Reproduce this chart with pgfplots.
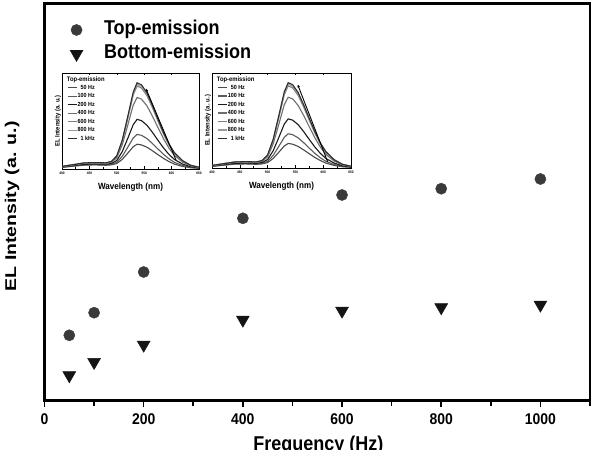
\documentclass[border=0pt]{standalone}
\usepackage{pgfplots}
\pgfplotsset{compat=1.18}
\usepackage{pgfplotstable}
\usepackage{fontspec}
\setmainfont{Liberation Sans}[FakeStretch=0.9]
\newfontfamily\labfont{Liberation Sans}
\usetikzlibrary{arrows.meta}

\definecolor{topc}{HTML}{3A3A3A}
\definecolor{botc}{HTML}{141414}
\definecolor{hzA}{HTML}{4A4A4A}
\definecolor{hzB}{HTML}{5A5A5A}
\definecolor{hzC}{HTML}{1A1A1A}
\definecolor{hzD}{HTML}{6E6E6E}
\definecolor{hzE}{HTML}{808080}
\definecolor{hzF}{HTML}{9A9A9A}
\definecolor{hzG}{HTML}{2E2E2E}

% EL intensity vs. drive frequency
\pgfplotstableread{
f    top    bottom
50   65.2   25.1
100  87.8   38.4
200  128.5  55.7
400  182.2  80.7
600  205.5  89.7
800  211.8  93.1
1000 221.5  95.7
}\freqdata

% EL spectra (normalised), c1 = highest ... c7 = lowest
\pgfplotstableread{
wl  c1    c2    c3    c4    c5    c6    c7
400 0.027 0.027 0.026 0.025 0.021 0.019 0.017
420 0.045 0.045 0.044 0.041 0.035 0.031 0.029
440 0.063 0.062 0.062 0.058 0.049 0.044 0.040
460 0.067 0.066 0.066 0.061 0.052 0.046 0.043
480 0.064 0.064 0.063 0.059 0.050 0.043 0.039
490 0.078 0.077 0.076 0.070 0.057 0.049 0.043
500 0.136 0.134 0.131 0.117 0.089 0.069 0.057
510 0.301 0.295 0.290 0.253 0.181 0.132 0.100
520 0.547 0.536 0.526 0.456 0.319 0.226 0.165
530 0.802 0.786 0.771 0.666 0.462 0.323 0.232
537 0.898 0.881 0.864 0.745 0.517 0.360 0.258
545 0.877 0.860 0.844 0.728 0.504 0.351 0.251
555 0.794 0.778 0.763 0.658 0.456 0.317 0.227
565 0.664 0.651 0.639 0.551 0.382 0.266 0.190
575 0.521 0.511 0.501 0.433 0.300 0.209 0.150
585 0.383 0.375 0.368 0.318 0.221 0.154 0.111
595 0.263 0.258 0.253 0.219 0.153 0.107 0.078
605 0.171 0.168 0.164 0.142 0.100 0.070 0.051
620 0.086 0.085 0.083 0.072 0.051 0.036 0.027
635 0.038 0.038 0.037 0.032 0.023 0.017 0.013
650 0.018 0.018 0.018 0.016 0.012 0.009 0.007
}\spectra

\pgfplotsset{
  inset/.style={
    scale only axis, anchor=south west,
    xmin=400, xmax=650, ymin=0, ymax=1,
    xtick={400,450,...,650}, minor x tick num=1,
    ytick=\empty,
    tick align=inside, major tick length=2.5bp, minor tick length=1.5bp,
    tick style={line width=0.5bp, black},
    axis line style={line width=0.9bp},
    axis background/.style={fill=white},
    /pgf/number format/assume math mode=true,
    ticklabel style={font=\fontsize{3.5bp}{4bp}\selectfont\bfseries},
    xticklabel style={yshift=0.5bp},
    xlabel={Wavelength (nm)},
    xlabel style={at={(axis description cs:0.5,-0.19)}, anchor=center,
      font=\fontsize{9bp}{10bp}\selectfont\bfseries, inner sep=0pt},
    ylabel={EL Intensity (a. u.)},
    ylabel style={at={(axis description cs:-0.03,0.5)}, anchor=center,
      font=\fontsize{6.5bp}{7bp}\selectfont\bfseries, inner sep=0pt},
    every axis plot/.append style={line width=1.1bp, no marks},
    legend cell align=right,
    legend image code/.code={\draw[##1] (0bp,0bp) -- (9bp,0bp);},
    legend style={at={(axis description cs:0.035,0.89)}, anchor=north west,
      draw=none, fill=none, inner sep=0pt, row sep=0.8bp,
      font=\fontsize{6bp}{7bp}\selectfont\bfseries,
      nodes={inner sep=0.6bp, text height=5bp, text depth=1.5bp}},
  },
}

\begin{document}
\begin{tikzpicture}
\begin{axis}[
  name=main, at={(0,0)}, anchor=south west,
  scale only axis, width=545.5bp, height=397bp,
  xmin=0, xmax=1100, ymin=0, ymax=397,
  xtick={0,200,...,1000}, minor xtick={100,300,...,1100},
  ytick=\empty,
  xtick pos=bottom, tick align=outside,
  major tick length=6.5bp, minor tick length=5bp,
  tick style={line width=1.6bp, black},
  axis line style={line width=2.2bp},
  /pgf/number format/assume math mode=true,
  /pgf/number format/1000 sep={},
  ticklabel style={font=\fontsize{15.5bp}{17bp}\selectfont\bfseries},
  xticklabel style={yshift=-3bp},
  xlabel={Frequency (Hz)},
  xlabel style={at={(axis description cs:0.502,-0.090)}, anchor=north,
    inner sep=0pt, font=\fontsize{20bp}{24bp}\selectfont\bfseries},
  ylabel={\labfont\bfseries\scalebox{1}[0.8]{EL Intensity (a. u.)}},
  ylabel style={at={(axis description cs:-0.0596,0.489)}, anchor=center,
    inner sep=0pt, font=\fontsize{19.5bp}{22bp}\selectfont},
  legend style={at={(axis description cs:0.041,0.964)}, anchor=north west,
    draw=none, fill=none, row sep=4bp,
    font=\fontsize{20bp}{24bp}\selectfont\bfseries,
    nodes={inner sep=1bp, text height=14bp, text depth=4bp},
    /tikz/every odd column/.append style={column sep=20bp}},
  legend cell align=left,
  legend image code/.code={\draw[mark repeat=2,mark phase=2,#1]
    plot coordinates {(0bp,0bp)(10bp,0bp)(20bp,0bp)};},
]
\addplot[only marks, mark=*, mark size=5.6bp, color=topc]
  table[x=f, y=top] {\freqdata};
\addlegendentry{Top-emission}
\addplot[only marks, mark=triangle*, mark size=7.5bp, color=botc,
  mark options={rotate=180}]
  table[x=f, y=bottom] {\freqdata};
\addlegendentry{Bottom-emission}
\end{axis}

% spectra, first device
\begin{axis}[inset, at={(17.5bp,231.5bp)}, width=137bp, height=96bp]
\addplot[hzA] table[x=wl, y=c7] {\spectra}; \addlegendentry{50 Hz}
\addplot[hzB] table[x=wl, y=c6] {\spectra}; \addlegendentry{100 Hz}
\addplot[hzC] table[x=wl, y=c5] {\spectra}; \addlegendentry{200 Hz}
\addplot[hzD] table[x=wl, y=c4] {\spectra}; \addlegendentry{400 Hz}
\addplot[hzE] table[x=wl, y=c3] {\spectra}; \addlegendentry{600 Hz}
\addplot[hzF] table[x=wl, y=c2] {\spectra}; \addlegendentry{800 Hz}
\addplot[hzG] table[x=wl, y=c1] {\spectra}; \addlegendentry{1 kHz}
\node[anchor=west, inner sep=0pt, font=\fontsize{6.5bp}{7bp}\selectfont\bfseries]
  at (axis description cs:0.035,0.925) {Top-emission};
\draw[-{Latex[length=3bp,width=2.5bp]}, line width=0.9bp]
  (axis cs:608,0.094) -- (axis cs:553,0.84);
\end{axis}

% spectra, second device
\begin{axis}[inset, at={(167.5bp,232.5bp)}, width=139bp, height=95bp]
\addplot[hzA] table[x=wl, y=c7] {\spectra}; \addlegendentry{50 Hz}
\addplot[hzB] table[x=wl, y=c6] {\spectra}; \addlegendentry{100 Hz}
\addplot[hzC] table[x=wl, y=c5] {\spectra}; \addlegendentry{200 Hz}
\addplot[hzD] table[x=wl, y=c4] {\spectra}; \addlegendentry{400 Hz}
\addplot[hzE] table[x=wl, y=c3] {\spectra}; \addlegendentry{600 Hz}
\addplot[hzF] table[x=wl, y=c2] {\spectra}; \addlegendentry{800 Hz}
\addplot[hzG] table[x=wl, y=c1] {\spectra}; \addlegendentry{1 kHz}
\node[anchor=west, inner sep=0pt, font=\fontsize{6.5bp}{7bp}\selectfont\bfseries]
  at (axis description cs:0.034,0.926) {Top-emission};
\draw[-{Latex[length=3bp,width=2.5bp]}, line width=0.9bp]
  (axis cs:608,0.066) -- (axis cs:554,0.88);
\end{axis}

\pgfresetboundingbox
\path[use as bounding box] (-44.5bp,-49.5bp) rectangle (552.5bp,400.5bp);
\end{tikzpicture}
\end{document}
